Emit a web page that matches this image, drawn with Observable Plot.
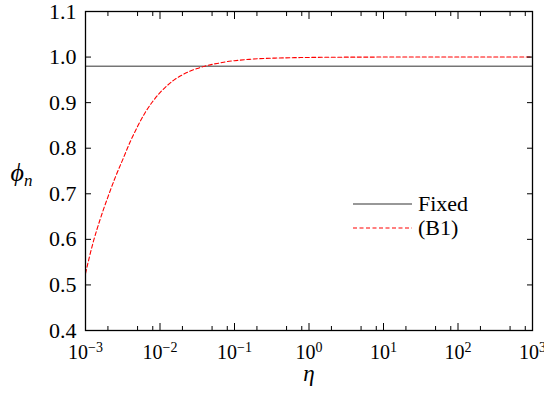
<!DOCTYPE html>
<html><head><meta charset="utf-8">
<script src="https://cdn.jsdelivr.net/npm/d3@7"></script>
<script src="https://cdn.jsdelivr.net/npm/@observablehq/plot@0.6"></script>
<style>
body{margin:0;background:#fff;}
</style></head><body><div id="chart"></div>
<script>
// ---- data ----
const etaValues = [0.001, 0.00126, 0.00158, 0.002, 0.00251, 0.00316, 0.00398, 0.00501, 0.00631, 0.00794,
  0.01, 0.0126, 0.0158, 0.02, 0.0251, 0.0316, 0.0398, 0.0501, 0.0631, 0.0794,
  0.1, 0.158, 0.251, 0.398, 0.631, 1, 3.16, 10, 100, 1000];
const phiB1 = [0.525, 0.592, 0.645, 0.693, 0.736, 0.775, 0.814, 0.848, 0.878, 0.902,
  0.922, 0.938, 0.951, 0.961, 0.969, 0.975, 0.980, 0.984, 0.987, 0.990,
  0.992, 0.995, 0.997, 0.998, 0.9987, 0.9992, 0.9998, 1.0, 1.0, 1.0];
const phiFixed = 0.98;
const seriesNames = ["Fixed", "(B1)"];
const xMajorTicks = [1e-3, 1e-2, 1e-1, 1, 10, 100, 1000];
const xTickExponents = ["−3", "−2", "−1", "0", "1", "2", "3"];
const xMinorTicks = [0.002, 0.005, 0.008, 0.02, 0.05, 0.08, 0.2, 0.5, 0.8, 2, 5, 8, 20, 50, 80, 200, 500, 800];
const yTicks = [0.4, 0.5, 0.6, 0.7, 0.8, 0.9, 1.0, 1.1];
const xLabel = "η";
const yLabel = ["ϕ", "n"];

// ---- chart ----
const FONT = "'Liberation Serif', 'Times New Roman', serif";
const data = etaValues.map((eta, i) => ({eta, phi: phiB1[i]}));
const expOf = new Map(xMajorTicks.map((t, i) => [t, xTickExponents[i]]));
const blank = () => "";
const tickStyle = {stroke: "#000", strokeWidth: 1, label: null, tickFormat: blank};

const plot = Plot.plot({
  width: 544, height: 393,
  marginLeft: 85, marginRight: 12, marginTop: 11, marginBottom: 63,
  x: {type: "log", domain: [1e-3, 1e3]},
  y: {domain: [0.4, 1.1]},
  style: {fontFamily: FONT, background: "#fff", color: "#000"},
  marks: [
    Plot.ruleY([phiFixed], {stroke: "#333", strokeWidth: 1}),
    Plot.line(data, {x: "eta", y: "phi", stroke: "#ff0000", strokeWidth: 1.1, strokeDasharray: "4,2.5", curve: "monotone-x"}),
    Plot.axisX(xMajorTicks, {anchor: "bottom", tickSize: -7, ...tickStyle}),
    Plot.axisX(xMajorTicks, {anchor: "top", tickSize: -7, ...tickStyle}),
    Plot.axisX(xMinorTicks, {anchor: "bottom", tickSize: -4, ...tickStyle}),
    Plot.axisX(xMinorTicks, {anchor: "top", tickSize: -4, ...tickStyle}),
    Plot.axisY(yTicks, {anchor: "left", tickSize: -6, ...tickStyle}),
    Plot.axisY(yTicks, {anchor: "right", tickSize: -6, ...tickStyle}),
    Plot.axisX(xMajorTicks, {anchor: "bottom", tickSize: 0, tickPadding: 14, fontSize: 20, label: null,
      tickFormat: d => "10|" + expOf.get(d)}),
    Plot.axisY(yTicks, {anchor: "left", tickSize: 0, tickPadding: 9, fontSize: 22, label: null,
      tickFormat: d3.format(".1f")}),
    Plot.frame({stroke: "#000", strokeWidth: 1.3}),
    Plot.text([xLabel], {text: d => d, frameAnchor: "bottom", dy: 50, fontSize: 23, fontStyle: "italic"}),
    Plot.text([yLabel.join("|")], {text: d => d, frameAnchor: "left", dx: -75, dy: 2, textAnchor: "start", fontSize: 26, fontStyle: "italic"})
  ]
});

const svg = d3.select(plot);
// remove empty tick texts
svg.selectAll("text").filter(function() { return this.textContent === ""; }).remove();
// superscripts / subscripts
svg.selectAll("text").each(function() {
  const t = this.textContent;
  if (!t.includes("|")) return;
  const [a, b] = t.split("|");
  const sel = d3.select(this);
  sel.text(null);
  if (a === "10") {
    sel.append("tspan").text(a);
    sel.append("tspan").attr("dy", "-0.45em").attr("font-size", "14px").text(b);
  } else {
    sel.append("tspan").text(a);
    sel.append("tspan").attr("dy", "0.3em").attr("font-size", "17px").text(b);
  }
});

// legend
const lg = svg.append("g").attr("font-size", 22).attr("text-anchor", "start");
const legendRows = [
  {name: seriesNames[0], stroke: "#333", dash: null, y: 204},
  {name: seriesNames[1], stroke: "#ff0000", dash: "4,2.5", y: 228}
];
legendRows.forEach(r => {
  lg.append("line").attr("x1", 353).attr("x2", 412).attr("y1", r.y).attr("y2", r.y)
    .attr("stroke", r.stroke).attr("stroke-width", 1.1).attr("stroke-dasharray", r.dash);
  lg.append("text").attr("x", 418).attr("y", r.y).attr("dy", "0.32em").text(r.name);
});

// force the serif face everywhere
svg.attr("font-family", FONT).style("font-family", FONT);
svg.selectAll("g").attr("font-variant", null).attr("font-family", null);
svg.selectAll("text").style("font-family", FONT).style("font-variant", "normal");

document.getElementById("chart").appendChild(plot);
</script></body></html>
